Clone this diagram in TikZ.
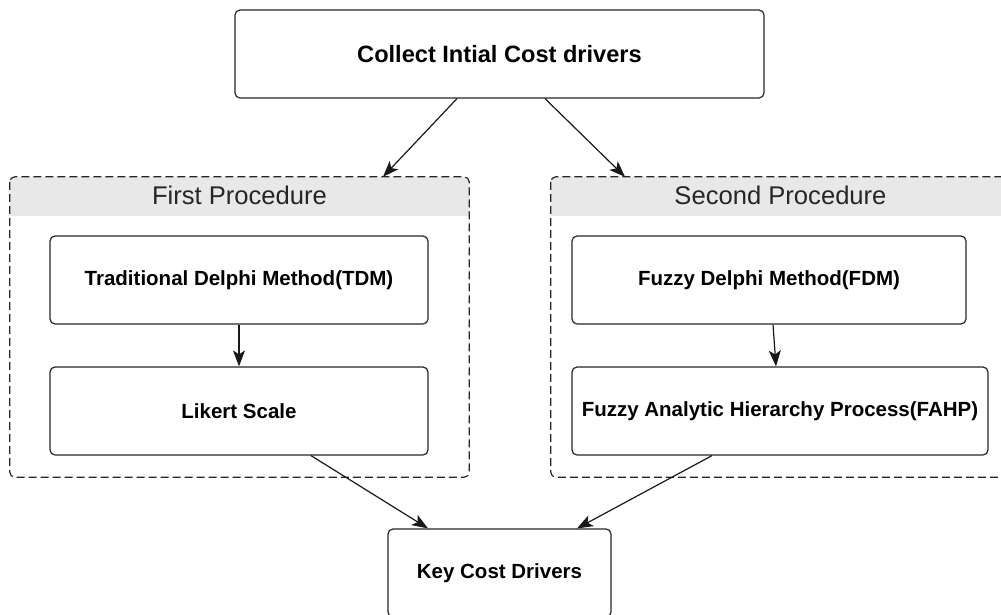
\documentclass[tikz,border=0pt]{standalone}
\usepackage{fontspec}
\setmainfont{Liberation Sans}
\usetikzlibrary{arrows.meta}
\definecolor{hdrgray}{HTML}{E8E8E8}
\begin{document}
\begin{tikzpicture}[x=1pt,y=-1pt]
	\def\h{88}
	\def\hb{39}
	\tikzset{b/.style={draw=black!85,line width=1.2pt,rectangle,rounded corners=5pt,minimum height=\h,inner sep=0pt,font=\fontsize{20.5}{24}\selectfont\bfseries},
		g/.style={rectangle,minimum width=459,minimum height=300,inner sep=0pt},
		gd/.style={draw=black!85,line width=1.2pt,dash pattern=on 8pt off 4pt,rounded corners=5pt},
		hd/.style={font=\fontsize{25.6}{30}\selectfont,text=black!85},
		ar/.style={line width=1.2pt,draw=black!90,-{Stealth[length=16pt,width=12pt,inset=4pt]}}}
	\useasboundingbox(0,0)rectangle(1001,614);
	\clip(0,0)rectangle(1001,614);
	% the two procedures
	\path(239.5,327)node[g](first){}(780.5,327)node[g](second){};
	\foreach \c in {first,second}{
	\fill[hdrgray]([yshift=-\hb]\c.north west)--([yshift=-\hb]\c.north east)[rounded corners=5pt]--(\c.north east)--(\c.north west)[sharp corners]--cycle;
	\draw[gd](\c.north west)rectangle(\c.south east);}
	\path(first.north)++(0,19)node[hd]{First Procedure};
	\path(second.north)++(0,19)node[hd]{Second Procedure};
	% boxes
	\path(499.5,54)node[b,minimum width=529,font=\fontsize{23.6}{28}\selectfont\bfseries](top){Collect Intial Cost drivers};
	\path(239,280)node[b,minimum width=378](tdm){Traditional Delphi Method(TDM)}++(0,131)node[b,minimum width=378](lik){Likert Scale};
	\path(769,280)node[b,minimum width=394](fdm){Fuzzy Delphi Method(FDM)};
	\path(780,411)node[b,minimum width=416](fahp){Fuzzy Analytic Hierarchy Process(FAHP)};
	\path(499.5,573)node[b,minimum width=223](key){Key Cost Drivers};
	% arrows
	\draw[ar]([xshift=-42.5]top.south)--([xshift=143.5]first.north);
	\draw[ar]([xshift=45.5]top.south)--([xshift=-155.5]second.north);
	\draw[ar](tdm.south)--(lik.north);
	\draw[ar]([xshift=4]fdm.south)--([xshift=-4]fahp.north);
	\draw[ar]([xshift=72]lik.south)--([xshift=-71.5]key.north);
	\draw[ar]([xshift=-68]fahp.south)--([xshift=77.5]key.north);
\end{tikzpicture}
\end{document}
